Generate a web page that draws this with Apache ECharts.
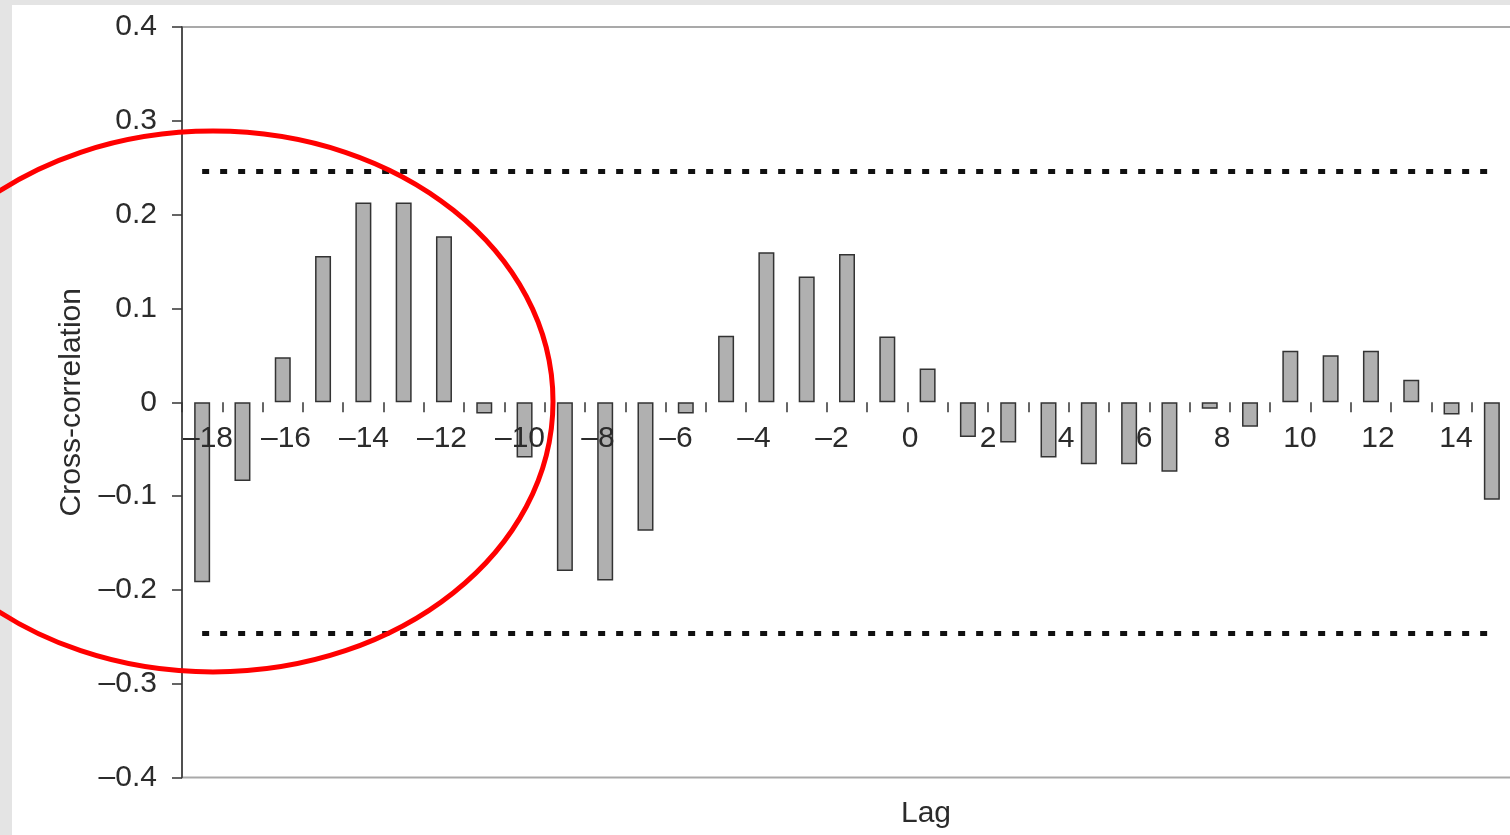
<!DOCTYPE html>
<html>
<head>
<meta charset="utf-8">
<title>Cross-correlation by lag</title>
<script src="https://cdn.jsdelivr.net/npm/echarts@6/dist/echarts.min.js"></script>
<style>
  html, body { margin: 0; padding: 0; background: #ffffff; }
  #chart { width: 1510px; height: 835px; }
</style>
</head>
<body>
<div id="chart"></div>
<script>
// Lags shown on the category axis (one bar per lag)
const lags = [
  -18, -17, -16, -15, -14, -13, -12, -11, -10, -9, -8, -7, -6, -5, -4, -3, -2,
  -1, 0, 1, 2, 3, 4, 5, 6, 7, 8, 9, 10, 11, 12, 13, 14
];

// Cross-correlation coefficient at each lag
const crossCorrelation = [
  -0.192, -0.084, 0.048, 0.156, 0.213, 0.213, 0.177, -0.012, -0.059, -0.180, -0.190,
  -0.137, -0.012, 0.071, 0.160, 0.134, 0.158, 0.070, 0.036, -0.037, -0.043, -0.059,
  -0.066, -0.066, -0.074, -0.007, -0.026, 0.055, 0.050, 0.055, 0.024, -0.013, -0.104
];

// Approximate significance bounds (dotted lines)
const confidenceBounds = [0.246, -0.246];

// Tick labels printed under the zero line
const lagTickLabels = [-18, -16, -14, -12, -10, -8, -6, -4, -2, 0, 2, 4, 6, 8, 10, 12, 14];

const FONT = '"Liberation Sans", Arial, Helvetica, sans-serif';
const INK = '#2b2b2b';
const dash = '\u2013';
const Y_MIN = -0.4;
const Y_MAX = 0.4;
const CHART_H = 835;

function signed(v, digits) {
  if (Math.abs(v) < 1e-9) return '0';
  const s = digits == null ? String(Math.abs(v)) : Math.abs(v).toFixed(digits);
  return (v < 0 ? dash : '') + s;
}

const plotBox = { left: 182, top: 27, right: -2, bottom: 57.5 };
// distance from the bottom of the plot up to the zero line
const plotHeight = CHART_H - plotBox.top - plotBox.bottom;
const zeroLift = plotHeight * (0 - Y_MIN) / (Y_MAX - Y_MIN);

const chart = echarts.init(document.getElementById('chart'), null, { renderer: 'canvas' });

chart.setOption({
  animation: false,
  backgroundColor: '#ffffff',
  grid: {
    ...plotBox,
    show: true,
    borderColor: '#a9a9a9',
    borderWidth: 2,
    backgroundColor: 'transparent',
    outerBoundsMode: 'none'
  },
  xAxis: [
    {
      // one band per lag; only the band-boundary ticks are drawn
      type: 'category',
      data: lags,
      position: 'bottom',
      axisLine: { show: false, onZero: true },
      axisTick: { show: true, interval: 0, length: 10, lineStyle: { color: '#333', width: 1.5 } },
      axisLabel: { show: false },
      splitLine: { show: false }
    },
    {
      // numeric lag scale with the printed tick labels, lifted to the zero line
      type: 'value',
      position: 'bottom',
      offset: -zeroLift,
      z: 10,
      min: -18.667,
      max: 15.436,
      axisLine: { show: false, onZero: false },
      axisTick: { show: false },
      splitLine: { show: false },
      axisLabel: {
        customValues: lagTickLabels,
        margin: 21,
        fontFamily: FONT,
        fontSize: 30,
        color: INK,
        formatter: v => signed(v)
      }
    }
  ],
  yAxis: {
    type: 'value',
    min: Y_MIN,
    max: Y_MAX,
    interval: 0.1,
    name: 'Cross-correlation',
    nameLocation: 'middle',
    nameGap: 95,
    nameRotate: 90,
    nameTextStyle: { fontFamily: FONT, fontSize: 30, color: INK },
    axisLine: { show: true, onZero: false, lineStyle: { color: '#333', width: 1.5 } },
    axisTick: { show: true, length: 10, lineStyle: { color: '#333', width: 1.5 } },
    splitLine: { show: false },
    axisLabel: {
      margin: 25,
      fontFamily: FONT,
      fontSize: 30,
      color: INK,
      formatter: v => signed(v, 1)
    }
  },
  series: [
    {
      type: 'bar',
      xAxisIndex: 0,
      yAxisIndex: 0,
      data: crossCorrelation,
      barWidth: 16,
      itemStyle: { color: '#b0b0b0', borderColor: '#333', borderWidth: 1.5 },
      markLine: {
        silent: true,
        symbol: ['none', 'none'],
        label: { show: false },
        lineStyle: { color: '#111', width: 5, type: [7, 11], opacity: 1 },
        emphasis: { disabled: true },
        data: confidenceBounds.map(b => [
          { xAxis: 0, yAxis: b },
          { xAxis: lags.length - 1, yAxis: b }
        ])
      }
    }
  ],
  graphic: [
    // light frame along the left and top edges
    { type: 'rect', left: 0, top: 0, z: 0, shape: { width: 12, height: CHART_H }, style: { fill: '#e4e4e4' } },
    { type: 'rect', left: 0, top: 0, z: 0, shape: { width: 1510, height: 5 }, style: { fill: '#e4e4e4' } },
    // hand-drawn highlight around the early lags
    {
      type: 'ellipse',
      z: 100,
      shape: { cx: 213, cy: 401.5, rx: 340, ry: 270.5 },
      style: { fill: null, stroke: '#ff0000', lineWidth: 5 }
    },
    // x axis title
    {
      type: 'text',
      z: 100,
      x: 926,
      y: 814,
      style: {
        text: 'Lag',
        font: '30px ' + FONT,
        fill: INK,
        align: 'center',
        verticalAlign: 'middle'
      }
    }
  ]
});
</script>
</body>
</html>
